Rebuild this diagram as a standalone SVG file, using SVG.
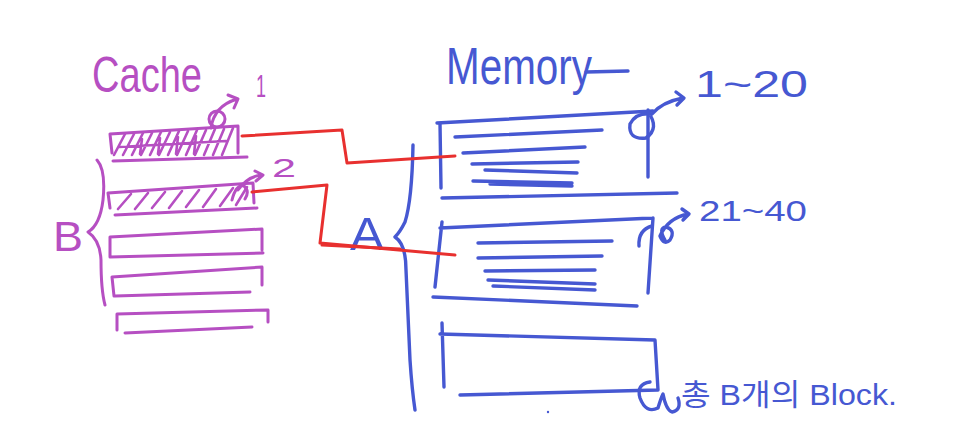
<svg xmlns="http://www.w3.org/2000/svg" width="967" height="446" viewBox="0 0 967 446">
<defs>
<style>
.p{fill:none;stroke:#b64fc2;stroke-width:3;stroke-linecap:round;stroke-linejoin:round}
.ph{fill:none;stroke:#b64fc2;stroke-width:2.6;stroke-linecap:round}
.b{fill:none;stroke:#4658d2;stroke-width:3.4;stroke-linecap:round;stroke-linejoin:round}
.r{fill:none;stroke:#e8302f;stroke-width:3;stroke-linecap:round;stroke-linejoin:round}
.tp{fill:#b64fc2;font-family:"Liberation Sans","Noto Sans",sans-serif}
.tb{fill:#4658d2;font-family:"Liberation Sans","Noto Sans CJK KR",sans-serif}
</style>
</defs>
<rect width="967" height="446" fill="#ffffff"/>

<g id="cache-label">
<text class="tp" x="92" y="92" font-size="50" textLength="110" lengthAdjust="spacingAndGlyphs">Cache</text>
</g>
<g id="label-B">
<text class="tp" x="53" y="251" font-size="42" textLength="30" lengthAdjust="spacingAndGlyphs">B</text>
<path class="p" d="M97,160 Q106,170 103,200 Q100,225 88,232 Q100,240 101,260 Q101,290 105,305"/>
</g>

<g id="cache-block-1">
<path class="p" d="M110,134 L238,126 L238,153 M110,134 L112,153 M113,161 L247,157"/>
<path class="ph" d="M114,155 L125,134 M123,155 L134,134 M132,155 L143,133 M141,155 L152,133 M150,155 L161,132 M159,155 L170,132 M168,155 L179,131 M177,155 L188,131 M186,155 L197,130 M195,155 L206,130 M204,155 L215,129 M213,155 L224,129 M222,155 L233,128 M119,147 L226,141 M142,139 L140,154 M160,138 L158,154 M178,137 L176,154 M196,136 L194,154"/>
<circle class="p" cx="217" cy="119" r="8"/>
<path class="p" d="M211,128 Q214,106 237,99 M228,95 L238,99 L234,108"/>
<text class="tp" x="256" y="97" font-size="32" textLength="10" lengthAdjust="spacingAndGlyphs">1</text>
</g>

<g id="cache-block-2">
<path class="p" d="M108,193 L253,183 L254,203 M108,193 L110,208 M115,215 L257,208"/>
<path class="ph" d="M118,209 L131,194 M135,209 L148,193 M152,208 L165,192 M169,208 L182,191 M186,207 L199,190 M203,207 L216,189 M220,206 L233,188 M236,205 L247,187"/>
<path class="p" d="M232,200 Q236,184 244,186 Q250,191 245,199 M238,190 Q248,176 262,175 M255,171 L263,175 L256,181"/>
<text class="tp" x="272" y="177" font-size="26" textLength="24" lengthAdjust="spacingAndGlyphs">2</text>
</g>

<g id="cache-block-3">
<path class="p" d="M110,237 L262,229 L262,250 M110,237 L110,257 M110,257 L263,253"/>
</g>
<g id="cache-block-4">
<path class="p" d="M112,277 L262,267 L262,285 M112,277 L114,296 M115,296 L250,292"/>
</g>
<g id="cache-block-5">
<path class="p" d="M117,314 L268,310 L268,322 M117,314 L117,330 M125,333 L252,327"/>
</g>

<g id="memory-label">
<text class="tb" x="446" y="84" font-size="52" textLength="146" lengthAdjust="spacingAndGlyphs">Memory</text>
<path class="b" d="M586,72 L628,71"/>
</g>

<g id="label-A">
<text class="tb" x="350" y="250" font-size="46" textLength="34" lengthAdjust="spacingAndGlyphs">A</text>
<path class="b" d="M413,145 Q412,200 405,222 Q400,232 395,237 Q406,244 406,270 L410,360 Q412,390 415,410"/>
</g>

<g id="memory-block-1">
<path class="b" d="M437,123 L653,111 M440,123 L441,188 M442,198 L677,193 M648,110 L648,177"/>
<path class="b" d="M455,137 L602,130 M463,153 L585,147 M472,164 L578,162 M485,170 L577,173 M473,181 L572,183 M490,184 L572,186"/>
<path class="b" d="M648,112 Q660,128 646,138 Q628,140 630,124 Q636,112 652,114 Q662,102 683,98 M676,92 L684,98 L677,105"/>
<text class="tb" x="695" y="97" font-size="36" textLength="113" lengthAdjust="spacingAndGlyphs">1~20</text>
</g>

<g id="memory-block-2">
<path class="b" d="M440,228 L653,218 M442,222 L435,287 M433,297 L637,306 M653,218 L648,293"/>
<path class="b" d="M478,243 L612,241 M478,258 L602,256 M485,271 L595,270 M488,280 L595,284 M493,286 L595,290"/>
<path class="b" d="M639,246 Q638,230 652,226 M665,240 Q658,228 666,227 Q676,230 670,240 Q664,246 660,236 Q668,218 688,214 M682,209 L689,214 L683,220"/>
<text class="tb" x="699" y="221" font-size="30" textLength="108" lengthAdjust="spacingAndGlyphs">21~40</text>
</g>

<g id="memory-block-3">
<path class="b" d="M440,334 L655,340 L658,390 M442,323 L444,387 M460,395 L658,390"/>
<path class="b" d="M650,382 Q636,384 640,398 Q646,414 658,408 Q661,398 663,394 Q666,410 672,412 Q682,410 678,398"/>
<text class="tb" x="681" y="405" font-size="30" textLength="216" lengthAdjust="spacingAndGlyphs">총 B개의 Block.</text>
<circle cx="548" cy="412" r="1.2" fill="#4658d2"/>
</g>

<g id="connectors">
<path class="r" d="M242,136 L342,130 L347,163 L455,156"/>
<path class="r" d="M252,192 L327,185 L320,243 L455,255"/>
<path class="r" stroke-width="2" d="M322,245 L400,249"/>
</g>
</svg>
